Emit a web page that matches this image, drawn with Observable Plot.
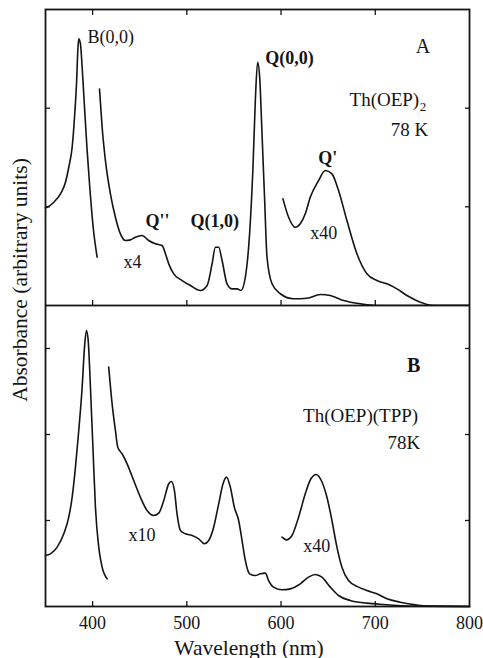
<!DOCTYPE html>
<html><head><meta charset="utf-8">
<script src="https://cdn.jsdelivr.net/npm/d3@7"></script>
<script src="https://cdn.jsdelivr.net/npm/@observablehq/plot@0.6"></script>
<style>
body{margin:0;background:#fff;}
#wrap{position:relative;width:483px;height:658px;font-family:"Liberation Serif","Times New Roman","DejaVu Serif",serif;}
#wrap svg{display:block;font-family:"Liberation Serif","Times New Roman","DejaVu Serif",serif;}
#ylab{position:absolute;left:20px;top:280px;transform:translate(-50%,-50%) rotate(-90deg);font-size:21.5px;white-space:nowrap;color:#141414;z-index:2;font-family:"Liberation Serif","Times New Roman","DejaVu Serif",serif;}
</style></head><body>
<div id="wrap"><div id="ylab">Absorbance (arbitrary units)</div></div>
<script>
// ---------- Panel A: Th(OEP)2, 78 K ----------
const aSoretNm  = [350, 351.8, 358.8, 365.9, 371.2, 374.7, 378.3, 380.8, 382.9, 384.3, 385.3, 387.1, 388.9, 391.4, 394.2, 397.0, 400.6, 404.8];
const aSoretAbs = [0.99, 0.996, 1.047, 1.132, 1.249, 1.401, 1.604, 1.908, 2.246, 2.584, 2.702, 2.651, 2.414, 2.009, 1.570, 1.199, 0.793, 0.489];

const aX4Nm  = [407.3, 410.1, 413.6, 418.9, 424.2, 429.5, 434.8, 440.1, 445.4, 452.5, 459.5, 466.6, 473.7, 477.3, 480.8, 486.1, 495.0, 503.8, 514.4, 521.5, 526.8, 530.3, 533.8, 537.4, 542.7, 548.0, 553.3, 557.5, 562.1, 566.6, 570.2, 572.7, 575.1, 577.3, 579.8, 582.6, 585.1, 590.4, 599.2, 613.3, 627.5, 641.6, 652.2, 666.3, 684.0, 701.7, 762, 800];
const aX4Abs = [2.195, 1.807, 1.469, 1.132, 0.895, 0.726, 0.659, 0.665, 0.692, 0.709, 0.659, 0.625, 0.608, 0.524, 0.422, 0.321, 0.253, 0.203, 0.152, 0.203, 0.422, 0.591, 0.591, 0.456, 0.220, 0.169, 0.169, 0.152, 0.287, 0.726, 1.401, 2.077, 2.465, 2.313, 1.740, 1.064, 0.489, 0.220, 0.119, 0.068, 0.074, 0.111, 0.101, 0.051, 0.017, 0.0, 0.0, 0.0];

const aX40Nm  = [602.0, 608.0, 615.1, 620.4, 625.7, 631.0, 639.8, 646.9, 654.0, 661.0, 669.9, 680.5, 691.1, 701.7, 712.4, 723.0, 733.6, 747.7, 761.8, 800];
const aX40Abs = [1.081, 0.895, 0.793, 0.828, 0.929, 1.097, 1.266, 1.368, 1.334, 1.165, 0.861, 0.524, 0.321, 0.253, 0.220, 0.169, 0.101, 0.034, 0.0, 0.0];

// ---------- Panel B: Th(OEP)(TPP), 78K ----------
const bSoretNm  = [350, 355.3, 362.4, 369.4, 374.7, 378.3, 381.8, 385.3, 388.9, 391.4, 393.5, 395.3, 397.7, 400.6, 403.0, 406.5, 410.1, 415.4];
const bSoretAbs = [0.593, 0.612, 0.690, 0.845, 1.039, 1.271, 1.620, 2.047, 2.550, 3.016, 3.209, 3.093, 2.550, 1.776, 1.155, 0.690, 0.457, 0.322];

const bX10Nm  = [417.1, 420.7, 424.2, 426.7, 431.3, 436.6, 443.6, 450.7, 457.8, 464.8, 470.2, 475.5, 480.8, 483.6, 486.8, 489.6, 493.2, 498.5, 505.6, 512.6, 518.6, 523.2, 528.5, 533.8, 538.4, 542.0, 546.2, 550.4, 555.0, 558.6, 562.1, 566.6, 572.7, 578.0, 583.3, 586.8, 592.1, 601.0, 609.8, 620.4, 629.2, 636.3, 643.4, 652.2, 661.0, 673.4, 691.1, 708.8, 744.2, 800];
const bX10Abs = [2.783, 2.357, 2.047, 1.852, 1.776, 1.659, 1.465, 1.271, 1.116, 1.058, 1.085, 1.233, 1.427, 1.453, 1.349, 1.078, 0.884, 0.845, 0.826, 0.787, 0.729, 0.767, 0.922, 1.194, 1.427, 1.504, 1.387, 1.155, 1.000, 0.767, 0.535, 0.380, 0.360, 0.380, 0.388, 0.302, 0.225, 0.194, 0.205, 0.264, 0.341, 0.372, 0.341, 0.225, 0.128, 0.070, 0.039, 0.023, 0.004, 0.0];

const bX40Nm  = [601.0, 605.6, 611.6, 618.6, 625.7, 631.7, 637.4, 642.7, 648.7, 654.0, 659.3, 664.6, 671.6, 682.2, 691.1, 701.7, 712.4, 726.5, 740.6, 758.3, 800];
const bX40Abs = [0.806, 0.775, 0.826, 1.039, 1.310, 1.485, 1.535, 1.465, 1.271, 1.000, 0.690, 0.457, 0.302, 0.225, 0.186, 0.147, 0.089, 0.050, 0.023, 0.004, 0.0];

// ---------- axes ----------
const xDomain = [350, 800];
const xTicks = [400, 500, 600, 700, 800];
const xInnerTicks = [400, 500, 600, 700];
const aYDomain = [0, 3];
const aYTicks = [1, 2];
const bYDomain = [0, 3.5];
const bYTicks = [1, 2, 3];
const xLabel = "Wavelength (nm)";

// ---------- annotations (data coordinates) ----------
const annA_start = [
  {t: "B(0,0)", x: 394.5, y: 2.665},
  {t: "x4", x: 432.7, y: 0.385},
  {t: "x40", x: 631, y: 0.669}
];
const annA_startBold = [
  {t: "Q(0,0)", x: 583.3, y: 2.452},
  {t: "Q'", x: 639.5, y: 1.439},
  {t: "Q''", x: 456, y: 0.80},
  {t: "Q(1,0)", x: 503.8, y: 0.80}
];
const annA_end = [
  {t: "A", x: 758.3, y: 2.563, s: 20},
  {t: "Th(OEP)", x: 746.6, y: 2.026, s: 19},
  {t: "78 K", x: 756.2, y: 1.722, s: 19}
];
const annA_sub = [{t: "2", x: 747.1, y: 1.976}];

const annB_end = [
  {t: "Th(OEP)(TPP)", x: 745.5, y: 2.151},
  {t: "78K", x: 747.7, y: 1.837}
];
const annB_endBold = [{t: "B", x: 747.7, y: 2.721}];
const annB_start = [
  {t: "x10", x: 438, y: 0.756},
  {t: "x40", x: 623.6, y: 0.628}
];

const zip = (xs, ys) => xs.map((x, i) => ({nm: x, abs: ys[i]}));
const INK = "#141414";
const lineOpts = {x: "nm", y: "abs", stroke: INK, strokeWidth: 1.6, curve: "monotone-x"};
const font = '"Liberation Serif", "Times New Roman", "DejaVu Serif", serif';
const tickOpts = (anchor, ticks) => ({anchor, ticks, tickSize: -5, tickFormat: () => "", label: null, strokeWidth: 1.3, stroke: INK});

const plotA = Plot.plot({
  width: 483, height: 305,
  marginTop: 9, marginBottom: 0, marginLeft: 45, marginRight: 14,
  style: {fontFamily: font, fontSize: "18px", color: INK},
  x: {domain: xDomain},
  y: {domain: aYDomain},
  marks: [
    Plot.axisX(tickOpts("top", xInnerTicks)),
    Plot.axisX(tickOpts("bottom", xInnerTicks)),
    Plot.axisY(tickOpts("left", aYTicks)),
    Plot.axisY(tickOpts("right", aYTicks)),
    Plot.line(zip(aSoretNm, aSoretAbs), lineOpts),
    Plot.line(zip(aX4Nm, aX4Abs), lineOpts),
    Plot.line(zip(aX40Nm, aX40Abs), lineOpts),
    Plot.frame({stroke: INK, strokeWidth: 1.8}),
    Plot.text(annA_start, {x: "x", y: "y", text: "t", textAnchor: "start", lineAnchor: "bottom", fontSize: 18, fontFamily: font, fill: INK}),
    Plot.text(annA_startBold, {x: "x", y: "y", text: "t", textAnchor: "start", lineAnchor: "bottom", fontSize: 18, fontFamily: font, fontWeight: "bold", fill: INK}),
    Plot.text(annA_end, {x: "x", y: "y", text: "t", textAnchor: "end", lineAnchor: "bottom", fontSize: d => d.s, fontFamily: font, fill: INK}),
    Plot.text(annA_sub, {x: "x", y: "y", text: "t", textAnchor: "start", lineAnchor: "bottom", fontSize: 13, fontFamily: font, fill: INK})
  ]
});

const plotB = Plot.plot({
  width: 483, height: 353,
  marginTop: 0, marginBottom: 52, marginLeft: 45, marginRight: 14,
  style: {fontFamily: font, fontSize: "18px", color: INK},
  x: {domain: xDomain},
  y: {domain: bYDomain},
  marks: [
    Plot.axisX(tickOpts("bottom", xInnerTicks)),
    Plot.axisX({anchor: "bottom", ticks: xTicks, tickSize: 0, tickPadding: 10, fontSize: 18, fontFamily: font, label: null, fill: INK}),
    Plot.axisY(tickOpts("left", bYTicks)),
    Plot.axisY(tickOpts("right", bYTicks)),
    Plot.line(zip(bSoretNm, bSoretAbs), lineOpts),
    Plot.line(zip(bX10Nm, bX10Abs), lineOpts),
    Plot.line(zip(bX40Nm, bX40Abs), lineOpts),
    Plot.frame({stroke: INK, strokeWidth: 1.8}),
    Plot.text(annB_start, {x: "x", y: "y", text: "t", textAnchor: "start", lineAnchor: "bottom", fontSize: 18, fontFamily: font, fill: INK}),
    Plot.text(annB_end, {x: "x", y: "y", text: "t", textAnchor: "end", lineAnchor: "bottom", fontSize: 19, fontFamily: font, fill: INK}),
    Plot.text(annB_endBold, {x: "x", y: "y", text: "t", textAnchor: "end", lineAnchor: "bottom", fontSize: 20, fontFamily: font, fontWeight: "bold", fill: INK}),
    Plot.text([xLabel], {x: 566, frameAnchor: "bottom", dy: 48, text: d => d, lineAnchor: "bottom", fontSize: 21.5, fontFamily: font, fill: INK})
  ]
});

const wrap = document.getElementById("wrap");
wrap.appendChild(plotA);
wrap.appendChild(plotB);
</script>
</body></html>
